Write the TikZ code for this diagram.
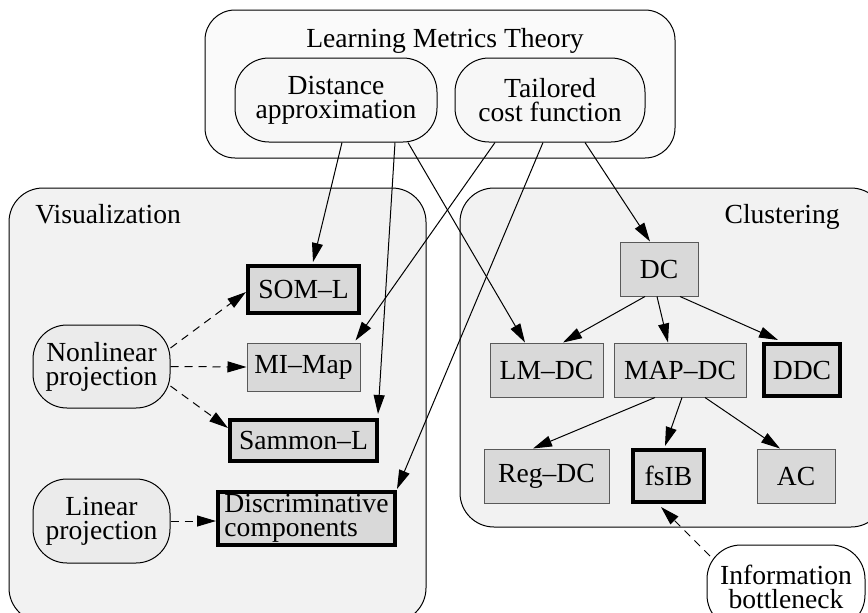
\documentclass[tikz,border=0pt]{standalone}
\usepackage{fontspec}
\setmainfont{Liberation Serif}
\usetikzlibrary{positioning,arrows.meta}

\definecolor{vizfill}{HTML}{F2F2F2}
\definecolor{lmtfill}{HTML}{FAFAFA}
\definecolor{ideafill}{HTML}{F7F7F7}
\definecolor{projfill}{HTML}{EBEBEB}
\definecolor{boxfill}{HTML}{D9D9D9}
\definecolor{boxedge}{HTML}{595959}

\begin{document}
\begin{tikzpicture}[
    x=0.5pt, y=-0.5pt,
    every node/.style={align=center, font=\fontsize{13.8}{12}\selectfont, inner sep=0pt},
    groupbox/.style={draw, line width=0.5pt, rounded corners=17pt},
    ideanode/.style={draw, line width=0.5pt, rounded corners=17pt, fill=ideafill},
    projnode/.style={ideanode, fill=projfill, minimum width=68.5pt, minimum height=41.5pt},
    algbox/.style={draw=boxedge, line width=0.5pt, fill=boxfill, minimum height=27pt},
    keybox/.style={algbox, draw=black, line width=2pt},
    link/.style={-{Triangle[length=9.5pt, width=5.5pt]}, line width=0.5pt},
    hint/.style={link, dashed, dash pattern=on 4pt off 3pt}
  ]
    \useasboundingbox (0,0) rectangle (868,612);
    \clip (0,0) rectangle (868,612);

    % groups
    \node[groupbox, fill=lmtfill, minimum width=235pt, minimum height=74pt, rounded corners=15pt] (lmt) at (440,84) {};
    \node[groupbox, fill=vizfill, minimum width=208.5pt, minimum height=217pt] (viz) at (217.5,405) {};
    \node[groupbox, fill=vizfill, minimum width=212.5pt, minimum height=169.5pt] (clu) at (672.5,357.5) {};
    \node[anchor=base] (lmtlabel) at (445,47) {Learning Metrics Theory};
    \node[anchor=base west] (vizlabel) at (35,223) {Visualization};
    \node[anchor=base east] (clulabel) at (840,223) {Clustering};

    % theory
    \node[ideanode, minimum width=101pt, minimum height=42pt] (dist) at (336,100) {Distance\\approximation};
    \node[ideanode, minimum width=95pt, minimum height=42pt] (tail) at (550,100) {Tailored\\cost function};

    % visualization
    \node[projnode] (nonlin) at (101.5,366.5) {Nonlinear\\projection};
    \node[projnode, minimum height=42pt] (lin) at (101.5,521) {Linear\\projection};
    \node[keybox, minimum width=55.5pt, minimum height=23.5pt] (soml) at (303.5,289.5) {SOM--L};
    \node[algbox, minimum width=56.5pt, minimum height=24pt] (mimap) at (303.5,367) {MI--Map};
    \node[keybox, minimum width=73.5pt, minimum height=20.5pt] (sammon) at (303.5,440.5) {Sammon--L};
    \node[keybox, minimum width=88.5pt, minimum height=26.5pt, align=left] (discr) at (306.5,518.5) {Discriminative\\components};

    % clustering
    \node[algbox, minimum width=39pt] (dc) at (659,269) {DC};
    \node[algbox, minimum width=56.5pt] (lmdc) at (546.5,370) {LM--DC};
    \node[algbox, minimum width=66pt] (mapdc) at (680,370) {MAP--DC};
    \node[keybox, minimum width=38pt, minimum height=26pt] (ddc) at (802,370) {DDC};
    \node[algbox, minimum width=62.5pt] (regdc) at (546.5,476) {Reg--DC};
    \node[keybox, minimum width=35.5pt, minimum height=26pt] (fsib) at (668.5,476) {fsIB};
    \node[algbox, minimum width=39pt] (ac) at (796,476) {AC};
    \node[ideanode, fill=white, minimum width=79pt, minimum height=42pt] (info) at (786,587) {Information\\bottleneck};

    % theory to methods
    \draw[link] ([xshift=3pt]dist.south) -- ([xshift=4.75pt,yshift=1pt]soml.north);
    \draw[link] ([xshift=29.5pt]dist.south) -- ([xshift=-0.5pt,yshift=2pt]sammon.north east);
    \draw[link] ([xshift=36pt]dist.south) -- ([xshift=-10.75pt]lmdc.north);
    \draw[link] ([xshift=-27.5pt]tail.south) -- ([xshift=-2.5pt,yshift=1pt]mimap.north east);
    \draw[link] ([xshift=-3.5pt]tail.south) -- ([yshift=0.5pt]discr.north east);
    \draw[link] ([xshift=17.5pt]tail.south) -- ([xshift=-4.5pt]dc.north);

    % clustering tree
    \draw[link] ([xshift=-7pt]dc.south) -- ([xshift=8.25pt]lmdc.north);
    \draw[link] ([xshift=-1pt]dc.south) -- ([xshift=-6pt]mapdc.north);
    \draw[link] ([xshift=10.5pt]dc.south) -- ([xshift=-12pt,yshift=1pt]ddc.north);
    \draw[link] ([xshift=-12.5pt]mapdc.south) -- ([xshift=-6.75pt]regdc.north);
    \draw[link] ([xshift=1pt]mapdc.south) -- ([xshift=-1.75pt,yshift=1pt]fsib.north);
    \draw[link] ([xshift=12.5pt]mapdc.south) -- ([xshift=-8pt]ac.north);
    \draw[hint] ([shift={(-38pt,15.5pt)}]info.center) -- ([xshift=-3.75pt,yshift=-1.5pt]fsib.south);

    % projections
    \draw[hint] ([yshift=9.25pt]nonlin.east) -- ([yshift=-1.25pt]soml.west);
    \draw[hint] (nonlin.east) -- (mimap.west);
    \draw[hint] ([yshift=-9.75pt]nonlin.east) -- ([yshift=6.25pt]sammon.west);
    \draw[hint] (lin.east) -- ([yshift=-1.25pt]discr.west);
\end{tikzpicture}
\end{document}
